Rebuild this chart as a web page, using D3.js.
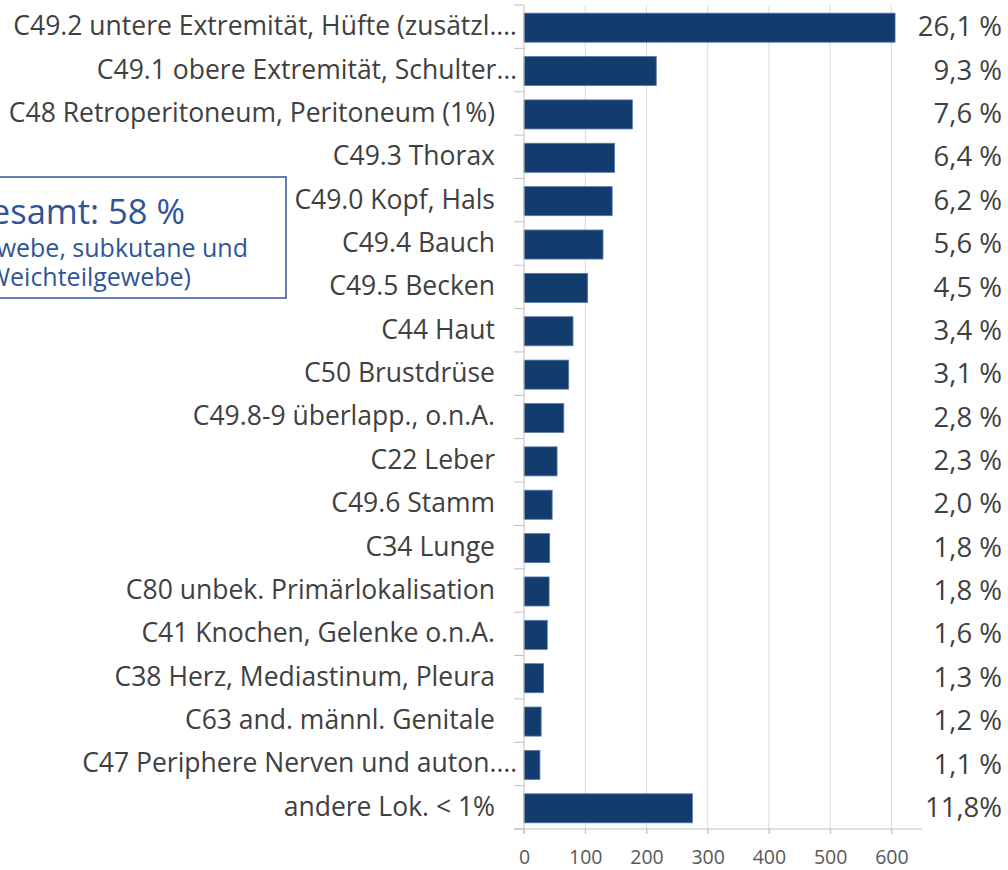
<!DOCTYPE html>
<html>
<head>
<meta charset="utf-8">
<script src="https://cdn.jsdelivr.net/npm/d3@7"></script>
<style>
  html, body { margin: 0; padding: 0; background: #fff; }
  svg { display: block; font-family: "Open Sans", "Noto Sans", sans-serif; }
</style>
</head>
<body>
<div id="chart"></div>
<script>
// data
const categories = [
  'C49.2 untere Extremität, Hüfte (zusätzl.…',
  'C49.1 obere Extremität, Schulter…',
  'C48 Retroperitoneum, Peritoneum (1%)',
  'C49.3 Thorax',
  'C49.0 Kopf, Hals',
  'C49.4 Bauch',
  'C49.5 Becken',
  'C44 Haut',
  'C50 Brustdrüse',
  'C49.8-9 überlapp., o.n.A.',
  'C22 Leber',
  'C49.6 Stamm',
  'C34 Lunge',
  'C80 unbek. Primärlokalisation',
  'C41 Knochen, Gelenke o.n.A.',
  'C38 Herz, Mediastinum, Pleura',
  'C63 and. männl. Genitale',
  'C47 Periphere Nerven und auton.…',
  'andere Lok. < 1%'
]
const values = [606, 216, 177, 148, 144, 129, 104, 80, 73, 65, 54, 46, 42, 41, 38, 32, 28, 26, 275]
const percentLabels = ['26,1 %', '9,3 %', '7,6 %', '6,4 %', '6,2 %', '5,6 %', '4,5 %', '3,4 %', '3,1 %',
  '2,8 %', '2,3 %', '2,0 %', '1,8 %', '1,8 %', '1,6 %', '1,3 %', '1,2 %', '1,1 %', '11,8%']
const xTicks = [0, 100, 200, 300, 400, 500, 600]
const noteLines = ['Gesamt: 58 %', '(Bindegewebe, subkutane und', 'andere Weichteilgewebe)']

const width = 1008
const height = 870
const margin = { top: 5, right: 86, bottom: 41, left: 524 }
const barColor = '#123c6e'
const textColor = '#404040'
const noteColor = '#2f5597'

const svg = d3.select('#chart')
  .append('svg')
  .attr('width', width)
  .attr('height', height)
  .attr('viewBox', [0, 0, width, height])

const x = d3.scaleLinear()
  .domain([0, 650])
  .range([margin.left, width - margin.right])

const y = d3.scaleBand()
  .domain(categories)
  .range([margin.top, height - margin.bottom])
  .paddingInner(0.33)
  .paddingOuter(0.165)

const yTop = margin.top
const yBottom = height - margin.bottom

// vertical gridlines
svg.append('g')
  .selectAll('line')
  .data(xTicks.slice(1))
  .join('line')
  .attr('x1', d => x(d)).attr('x2', d => x(d))
  .attr('y1', yTop).attr('y2', yBottom + 5)
  .attr('stroke', '#d9d9d9')
  .attr('stroke-width', 1)

// bars
svg.append('g')
  .selectAll('rect')
  .data(values)
  .join('rect')
  .attr('x', x(0))
  .attr('y', (d, i) => y(categories[i]) + 1)
  .attr('width', d => x(d) - x(0))
  .attr('height', y.bandwidth())
  .attr('fill', barColor)
  .attr('stroke', '#5a7aa6')
  .attr('stroke-width', 0.8)

// x axis
const xAxis = g => g
  .attr('transform', `translate(0,${yBottom})`)
  .call(d3.axisBottom(x).tickValues(xTicks).tickSize(5).tickPadding(16))
  .call(g => g.select('.domain').remove())
  .call(g => g.selectAll('.tick line').attr('stroke', '#bfbfbf'))
  .call(g => g.selectAll('.tick text')
    .attr('fill', '#595959')
    .attr('font-size', 19.5)
    .attr('font-family', '"Open Sans", sans-serif'))
  .call(g => g.append('line')
    .attr('x1', x(0) - 10).attr('x2', x(650))
    .attr('stroke', '#bfbfbf'))

svg.append('g').call(xAxis)

// y axis with ticks on category boundaries
const boundaries = d3.range(categories.length + 1).map(i => yTop + i * y.step())
const yAxis = g => g
  .attr('transform', `translate(${x(0)},0)`)
  .call(d3.axisLeft(y).tickSize(0).tickPadding(29))
  .call(g => g.select('.domain').remove())
  .call(g => g.selectAll('.tick text')
    .attr('fill', textColor)
    .attr('font-size', 26.5)
    .attr('font-family', '"Open Sans", sans-serif')
    // truncated labels run further right, as in the source
    .attr('x', d => d.endsWith('…') ? -7 : -29))
  .call(g => g.append('line')
    .attr('y1', yTop).attr('y2', yBottom + 5)
    .attr('stroke', '#bfbfbf'))
  .call(g => g.append('g')
    .selectAll('line')
    .data(boundaries)
    .join('line')
    .attr('x1', -10).attr('x2', 0)
    .attr('y1', d => d).attr('y2', d => d)
    .attr('stroke', '#bfbfbf'))

svg.append('g').call(yAxis)

// percentage labels on the right
svg.append('g')
  .selectAll('text')
  .data(percentLabels)
  .join('text')
  .attr('x', 1002)
  .attr('y', (d, i) => y(categories[i]) + y.bandwidth() / 2)
  .attr('dy', '0.35em')
  .attr('text-anchor', 'end')
  .attr('fill', textColor)
  .attr('font-size', 27.5)
  .text(d => d)

// note box, cut off at the left edge
const note = svg.append('g')
note.append('rect')
  .attr('x', -200)
  .attr('y', 177)
  .attr('width', 486)
  .attr('height', 121)
  .attr('fill', '#fff')
  .attr('stroke', noteColor)
  .attr('stroke-width', 1.5)

note.selectAll('text')
  .data(noteLines)
  .join('text')
  .attr('x', (d, i) => [185, 248, 191][i])
  .attr('y', (d, i) => [224, 257, 286][i])
  .attr('text-anchor', 'end')
  .attr('fill', noteColor)
  .attr('font-size', (d, i) => i === 0 ? 34.5 : 25)
  .text(d => d)
</script>
</body>
</html>
